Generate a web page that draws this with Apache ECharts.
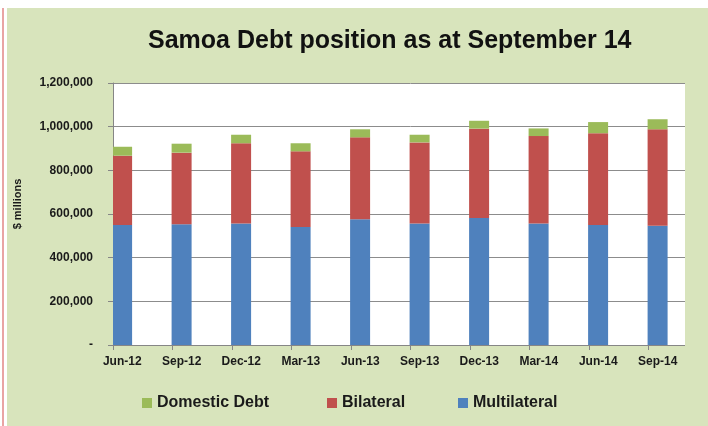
<!DOCTYPE html>
<html>
<head>
<meta charset="utf-8">
<style>
html,body{margin:0;padding:0;background:#fff;}
#c{width:708px;height:426px;}
</style>
<script src="https://cdn.jsdelivr.net/npm/echarts@6/dist/echarts.min.js"></script>
</head>
<body>
<div id="c"></div>
<script>
const categories = ['Jun-12','Sep-12','Dec-12','Mar-13','Jun-13','Sep-13','Dec-13','Mar-14','Jun-14','Sep-14'];
const multilateral = [550000, 553000, 557000, 540000, 576000, 557000, 582000, 557000, 550000, 546000];
const bilateral = [317000, 328000, 367000, 347000, 375000, 371000, 409000, 400000, 420000, 442000];
const domestic = [41000, 41000, 39000, 37000, 37000, 35000, 36000, 35000, 51000, 46000];
const yTickLabels = ['-', '200,000', '400,000', '600,000', '800,000', '1,000,000', '1,200,000'];

const BG = '#d8e4bc';
const FONT = 'Liberation Sans';
const chart = echarts.init(document.getElementById('c'), null, {renderer: 'canvas'});

function legendAt(name, left) {
  return {
    data: [name], left: left, top: 390, itemWidth: 10, itemHeight: 10, itemGap: 0,
    icon: 'rect', selectedMode: false,
    textStyle: {fontFamily: FONT, fontWeight: 'bold', fontSize: 16, color: '#1a1a1a'}
  };
}

chart.setOption({
  backgroundColor: BG,
  animation: false,
  title: {
    text: 'Samoa Debt position as at September 14',
    left: 143, top: 24,
    textStyle: {fontFamily: FONT, fontWeight: 'bold', fontSize: 25, color: '#111'}
  },
  legend: [
    legendAt('Domestic Debt', 137),
    legendAt('Bilateral', 322),
    legendAt('Multilateral', 453)
  ],
  grid: {
    left: 113, top: 83, width: 613, bottom: 81,
    show: true, backgroundColor: '#ffffff', borderWidth: 0
  },
  xAxis: {
    type: 'category',
    data: categories,
    boundaryGap: true,
    axisLine: {lineStyle: {color: '#868686', width: 1}},
    axisTick: {show: true, length: 5, lineStyle: {color: '#868686'}},
    axisLabel: {
      interval: 0, margin: 11, padding: [0, 41, 0, 0],
      fontFamily: FONT, fontWeight: 'bold', fontSize: 12, color: '#1a1a1a'
    }
  },
  yAxis: {
    type: 'value', min: 0, max: 1200000, interval: 200000,
    axisLine: {show: true, lineStyle: {color: '#868686', width: 1}},
    axisTick: {show: true, length: 5, lineStyle: {color: '#868686'}},
    splitLine: {show: true, lineStyle: {color: '#8c8c8c', width: 1}},
    axisLabel: {
      margin: 20,
      fontFamily: FONT, fontWeight: 'bold', fontSize: 12, color: '#1a1a1a',
      formatter: function (v) { return yTickLabels[Math.round(v / 200000)]; }
    }
  },
  graphic: [
    {type: 'rect', shape: {x: 0, y: 0, width: 708, height: 8}, style: {fill: '#ffffff'}, z: 100},
    {type: 'rect', shape: {x: 0, y: 0, width: 7, height: 426}, style: {fill: '#ffffff'}, z: 100},
    {type: 'rect', shape: {x: 2, y: 8, width: 2, height: 418}, style: {fill: '#e9a4a4'}, z: 101},
    {type: 'rect', shape: {x: 685, y: 70, width: 23, height: 277}, style: {fill: BG}, z: 100},
    {type: 'text', x: 18, y: 204, rotation: Math.PI / 2, z: 100,
      style: {text: '$ millions', font: 'bold 11px "Liberation Sans"', fill: '#1a1a1a', textAlign: 'center', textVerticalAlign: 'middle'}}
  ],
  series: [
    {name: 'Multilateral', type: 'bar', stack: 'debt', data: multilateral, barWidth: 20, barGap: '106.5%', itemStyle: {color: '#4f81bd'}},
    {name: 'Bilateral', type: 'bar', stack: 'debt', data: bilateral, barWidth: 20, itemStyle: {color: '#c0504d'}},
    {name: 'Domestic Debt', type: 'bar', stack: 'debt', data: domestic, barWidth: 20, itemStyle: {color: '#9bbb59'}},
    {name: 'spacer', type: 'bar', data: [], barWidth: 20}
  ]
});
</script>
</body>
</html>
